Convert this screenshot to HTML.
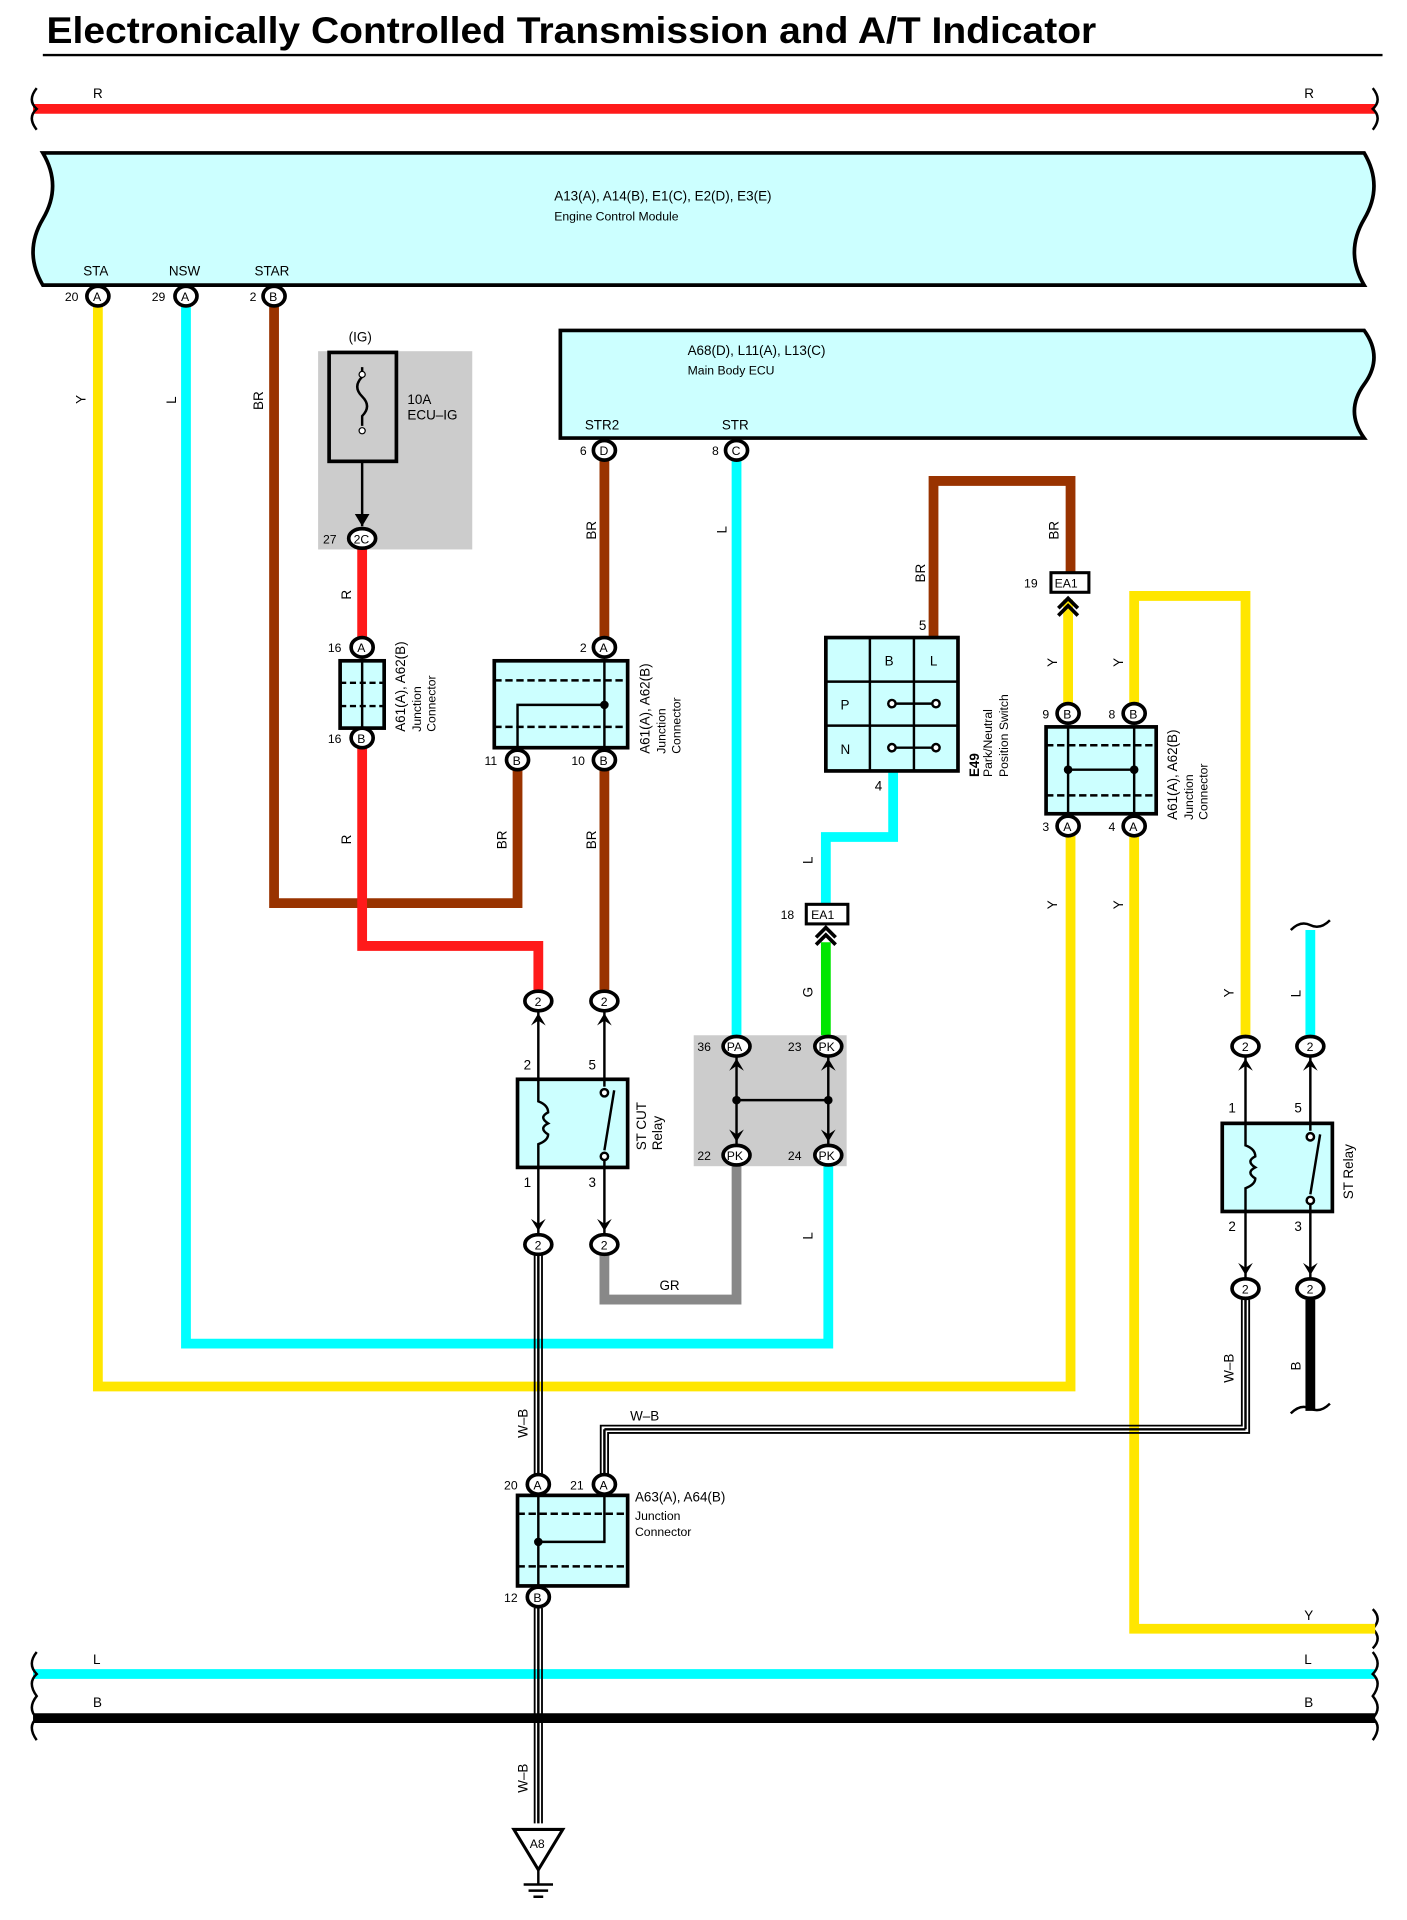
<!DOCTYPE html>
<html><head><meta charset="utf-8"><style>
html,body{margin:0;padding:0;background:#fff}
svg{display:block}
text{font-family:"Liberation Sans",Arial,sans-serif;font-size:11px;fill:#000}
.t{font-size:10px}
.w{fill:none;stroke-width:8;stroke-linejoin:miter;stroke-linecap:butt}
.box{fill:#ccffff;stroke:#000;stroke-width:3}
.pin{fill:#fff;stroke:#000;stroke-width:3}
.ln{stroke:#000;stroke-width:2;fill:none}
</style></head><body>
<svg width="1407" height="1920" viewBox="0 0 1150 1569" preserveAspectRatio="none" xmlns="http://www.w3.org/2000/svg">
<text x="38" y="35" textLength="858" lengthAdjust="spacingAndGlyphs" style="font-size:30px;font-weight:bold">Electronically Controlled Transmission and A/T Indicator</text>
<line x1="35" y1="45" x2="1130" y2="45" stroke="#000" stroke-width="2"/>

<!-- buses -->
<line x1="27" y1="89" x2="1124" y2="89" stroke="#ff1a1a" stroke-width="8"/>
<text x="76" y="80">R</text><text x="1066" y="80">R</text>
<line x1="27" y1="1368" x2="1124" y2="1368" stroke="#00ffff" stroke-width="8"/>
<text x="76" y="1360">L</text><text x="1066" y="1360">L</text>
<line x1="27" y1="1404" x2="1124" y2="1404" stroke="#000" stroke-width="8"/>
<text x="76" y="1395">B</text><text x="1066" y="1395">B</text>
<g class="ln" stroke-width="2">
<path d="M30 72 q-8 10 0 17 q-8 7 0 17"/><path d="M1122 72 q8 10 0 17 q8 7 0 17"/>
<path d="M30 1350 q-8 10 0 18 q-8 7 0 18 q-8 10 0 18 q-8 7 0 18"/><path d="M1122 1350 q8 10 0 18 q8 7 0 18 q8 10 0 18 q8 7 0 18"/>
<path d="M1122 1315 q8 8 0 16 q8 8 0 16"/>
<path d="M1055 760 q8 -8 16 -4 q8 4 16 -4"/><path d="M1055 1155 q8 -8 16 -4 q8 4 16 -4"/>
</g>

<!-- ECM -->
<path class="box" d="M35 125 H1115 q16 27 0 54 q-16 27 0 54 H35 q-16 -27 0 -54 q16 -27 0 -54 Z"/>
<text x="453" y="164">A13(A), A14(B), E1(C), E2(D), E3(E)</text>
<text x="453" y="180" class="t">Engine Control Module</text>
<text x="68" y="225">STA</text><text x="138" y="225">NSW</text><text x="208" y="225">STAR</text>
<!-- Main body ECU -->
<path class="box" d="M458 270 H1115 q16 22 0 44 q-16 22 0 44 H458 Z"/>
<text x="562" y="290">A68(D), L11(A), L13(C)</text>
<text x="562" y="306" class="t">Main Body ECU</text>
<text x="478" y="351">STR2</text><text x="590" y="351">STR</text>

<!-- fuse gray -->
<rect x="260" y="287" width="126" height="162" fill="#cccccc"/>
<rect x="269" y="288" width="55" height="89" fill="none" stroke="#000" stroke-width="3"/>
<path class="ln" d="M296 300 v8 q-8 8 0 16 q8 8 0 16 v8"/><circle cx="296" cy="306" r="2.5" fill="#fff" stroke="#000"/><circle cx="296" cy="352" r="2.5" fill="#fff" stroke="#000"/>
<line x1="296" y1="377" x2="296" y2="430" stroke="#000" stroke-width="2"/>
<path d="M290 420 l6 10 l6 -10 z"/>
<text x="285" y="279">(IG)</text><text x="333" y="330">10A</text><text x="333" y="343">ECU–IG</text>
<!-- PNP gray -->
<rect x="567" y="846" width="125" height="107" fill="#cccccc"/>

<!-- wires -->
<path class="w" stroke="#ffe600" d="M80 250 V1133 H875 V683"/>
<path class="w" stroke="#00ffff" d="M152 250 V1098 H677 V953"/>
<path class="w" stroke="#993300" d="M224 250 V738 H423 V629"/>
<path class="w" stroke="#ff1a1a" d="M296 448 V521"/>
<path class="w" stroke="#ff1a1a" d="M296 611 V773 H440 V810"/>
<path class="w" stroke="#993300" d="M494 376 V521"/>
<path class="w" stroke="#993300" d="M494 629 V810"/>
<path class="w" stroke="#00ffff" d="M602 376 V846"/>
<path class="w" stroke="#993300" d="M763 521 V393 H875 V468"/>
<path class="w" stroke="#00ffff" d="M730 630 V684 H675 V739"/>
<path class="w" stroke="#00e600" d="M675 770 V846"/>
<path class="w" stroke="#888" d="M602 953 V1062 H494 V1025"/>
<path class="w" stroke="#ffe600" d="M873 490 V575"/>
<path class="w" stroke="#ffe600" d="M927 683 V1331 H1124"/>
<path class="w" stroke="#ffe600" d="M927 575 V487 H1018 V846"/>
<path class="w" stroke="#00ffff" d="M1071 760 V846"/>
<path class="w" stroke="#000" d="M1071 1062 V1153" stroke-width="9"/>
<!-- W-B double lines -->
<g fill="none" stroke="#000" stroke-width="1.5">
<path d="M437 1025 V1205 M443 1025 V1205 M437 1314 V1490 M443 1314 V1490"/>
<path d="M491 1205 V1165 H1015 V1062 M497 1205 V1171 H1021 V1062"/>
</g>
<line x1="440" y1="1025" x2="440" y2="1205" stroke="#000" stroke-width="2"/>
<line x1="440" y1="1314" x2="440" y2="1490" stroke="#000" stroke-width="2"/>
<line x1="494" y1="1205" x2="494" y2="1168" stroke="#000" stroke-width="2"/>
<line x1="494" y1="1168" x2="1018" y2="1168" stroke="#000" stroke-width="2"/>
<line x1="1018" y1="1168" x2="1018" y2="1062" stroke="#000" stroke-width="2"/>

<!-- wire labels (rotated) -->
<g class="t">
<text transform="translate(70 330) rotate(-90)">Y</text>
<text transform="translate(144 330) rotate(-90)">L</text>
<text transform="translate(215 335) rotate(-90)">BR</text>
<text transform="translate(287 490) rotate(-90)">R</text>
<text transform="translate(287 690) rotate(-90)">R</text>
<text transform="translate(414 694) rotate(-90)">BR</text>
<text transform="translate(487 694) rotate(-90)">BR</text>
<text transform="translate(487 441) rotate(-90)">BR</text>
<text transform="translate(594 436) rotate(-90)">L</text>
<text transform="translate(756 476) rotate(-90)">BR</text>
<text transform="translate(865 441) rotate(-90)">BR</text>
<text transform="translate(664 706) rotate(-90)">L</text>
<text transform="translate(664 815) rotate(-90)">G</text>
<text transform="translate(664 1013) rotate(-90)">L</text>
<text transform="translate(864 545) rotate(-90)">Y</text>
<text transform="translate(918 545) rotate(-90)">Y</text>
<text transform="translate(864 743) rotate(-90)">Y</text>
<text transform="translate(918 743) rotate(-90)">Y</text>
<text transform="translate(1008 815) rotate(-90)">Y</text>
<text transform="translate(1063 815) rotate(-90)">L</text>
<text transform="translate(1008 1130) rotate(-90)">W–B</text>
<text transform="translate(1063 1120) rotate(-90)">B</text>
<text transform="translate(431 1175) rotate(-90)">W–B</text>
<text transform="translate(431 1465) rotate(-90)">W–B</text>
<text x="539" y="1054">GR</text>
<text x="515" y="1161">W–B</text>
<text x="1066" y="1324">Y</text>
</g>

<!-- junction connectors -->
<rect class="box" x="278" y="540" width="36" height="55"/>
<path class="ln" d="M296 540 V595" /><path d="M278 558 H314 M278 577 H314" stroke="#000" stroke-width="2" stroke-dasharray="5 3"/>
<text transform="translate(331 598) rotate(-90)">A61(A), A62(B)</text>
<text class="t" transform="translate(344 598) rotate(-90)">Junction</text>
<text class="t" transform="translate(356 598) rotate(-90)">Connector</text>

<rect class="box" x="404" y="540" width="109" height="71"/>
<path d="M404 556 H513 M404 594 H513" stroke="#000" stroke-width="2" stroke-dasharray="6 3"/>
<path class="ln" d="M494 540 V611 M423 611 V576 H494"/><circle cx="494" cy="576" r="3.5"/>
<text transform="translate(531 616) rotate(-90)">A61(A), A62(B)</text>
<text class="t" transform="translate(544 616) rotate(-90)">Junction</text>
<text class="t" transform="translate(556 616) rotate(-90)">Connector</text>

<rect class="box" x="855" y="594" width="90" height="71"/>
<path d="M855 609 H945 M855 650 H945" stroke="#000" stroke-width="2" stroke-dasharray="6 3"/>
<path class="ln" d="M873 594 V665 M927 594 V665 M873 629 H927"/><circle cx="873" cy="629" r="3.5"/><circle cx="927" cy="629" r="3.5"/>
<text transform="translate(962 670) rotate(-90)">A61(A), A62(B)</text>
<text class="t" transform="translate(975 670) rotate(-90)">Junction</text>
<text class="t" transform="translate(987 670) rotate(-90)">Connector</text>

<rect class="box" x="423" y="1222" width="90" height="74"/>
<path d="M423 1237 H513 M423 1280 H513" stroke="#000" stroke-width="2" stroke-dasharray="6 3"/>
<path class="ln" d="M440 1222 V1296 M494 1222 V1260 H440"/><circle cx="440" cy="1260" r="3.5"/>
<text x="519" y="1227">A63(A), A64(B)</text>
<text x="519" y="1242" class="t">Junction</text>
<text x="519" y="1255" class="t">Connector</text>

<!-- PNP switch -->
<rect class="box" x="675" y="521" width="108" height="109"/>
<path class="ln" stroke-width="3" d="M711 521 V630 M747 521 V630 M675 557 H783 M675 593 H783"/>
<text x="723" y="544">B</text><text x="760" y="544">L</text><text x="687" y="580">P</text><text x="687" y="616">N</text>
<path class="ln" d="M729 575 H765 M729 611 H765"/>
<g fill="#fff" stroke="#000" stroke-width="2"><circle cx="729" cy="575" r="3"/><circle cx="765" cy="575" r="3"/><circle cx="729" cy="611" r="3"/><circle cx="765" cy="611" r="3"/></g>
<text x="751" y="515">5</text><text x="715" y="646">4</text>
<text transform="translate(800 635) rotate(-90)" style="font-weight:bold">E49</text>
<text class="t" transform="translate(811 635) rotate(-90)">Park/Neutral</text>
<text class="t" transform="translate(824 635) rotate(-90)">Position Switch</text>

<!-- PNP internal -->
<path class="ln" d="M602 864 V935 M677 864 V935 M602 899 H677"/><circle cx="602" cy="899" r="3.5"/><circle cx="677" cy="899" r="3.5"/>

<!-- relays -->
<rect class="box" x="423" y="882" width="90" height="72"/>
<path class="ln" d="M440 826 V900 q8 3 8 9 q-8 4 0 9 q-8 4 0 9 q0 5 -8 8 V1008 M494 826 V888 M494 948 V1008 M494 940 L502 891"/>
<circle cx="494" cy="893" r="3" fill="#fff" stroke="#000" stroke-width="2"/><circle cx="494" cy="945" r="3" fill="#fff" stroke="#000" stroke-width="2"/>
<text x="428" y="874">2</text><text x="481" y="874">5</text><text x="428" y="970">1</text><text x="481" y="970">3</text>
<text transform="translate(528 940) rotate(-90)">ST CUT</text><text transform="translate(541 940) rotate(-90)">Relay</text>

<rect class="box" x="999" y="918" width="90" height="72"/>
<path class="ln" d="M1018 863 V936 q8 3 8 9 q-8 4 0 9 q-8 4 0 9 q0 5 -8 8 V1044 M1071 863 V924 M1071 984 V1044 M1071 976 L1079 927"/>
<circle cx="1071" cy="929" r="3" fill="#fff" stroke="#000" stroke-width="2"/><circle cx="1071" cy="981" r="3" fill="#fff" stroke="#000" stroke-width="2"/>
<text x="1004" y="909">1</text><text x="1058" y="909">5</text><text x="1004" y="1006">2</text><text x="1058" y="1006">3</text>
<text transform="translate(1106 980) rotate(-90)">ST Relay</text>

<!-- EA1 connectors -->
<rect x="859" y="468" width="31" height="16" fill="#fff" stroke="#000" stroke-width="2.5"/><text x="862" y="480" class="t">EA1</text><text x="837" y="480" class="t">19</text>
<path d="M865 497 l8 -8 l8 8 M865 503 l8 -8 l8 8" fill="none" stroke="#000" stroke-width="3"/>
<rect x="659" y="739" width="34" height="16" fill="#fff" stroke="#000" stroke-width="2.5"/><text x="663" y="751" class="t">EA1</text><text x="638" y="751" class="t">18</text>
<path d="M667 766 l8 -8 l8 8 M667 772 l8 -8 l8 8" fill="none" stroke="#000" stroke-width="3"/>

<!-- arrowheads near connectors -->
<g fill="#000">
<path d="M434 838 l6 -10 l6 10 l-6 -4z"/><path d="M488 838 l6 -10 l6 10 l-6 -4z"/>
<path d="M434 996 l6 10 l6 -10 l-6 4z"/><path d="M488 996 l6 10 l6 -10 l-6 4z"/>
<path d="M596 875 l6 -10 l6 10 l-6 -4z"/><path d="M671 875 l6 -10 l6 10 l-6 -4z"/>
<path d="M596 923 l6 10 l6 -10 l-6 4z"/><path d="M671 923 l6 10 l6 -10 l-6 4z"/>
<path d="M1012 875 l6 -10 l6 10 l-6 -4z"/><path d="M1065 875 l6 -10 l6 10 l-6 -4z"/>
<path d="M1012 1032 l6 10 l6 -10 l-6 4z"/><path d="M1065 1032 l6 10 l6 -10 l-6 4z"/>
</g>

<!-- pins -->
<g>
<ellipse class="pin" cx="80" cy="242" rx="9" ry="8"/><text x="76" y="246" class="t">A</text><text x="53" y="246" class="t">20</text>
<ellipse class="pin" cx="152" cy="242" rx="9" ry="8"/><text x="148" y="246" class="t">A</text><text x="124" y="246" class="t">29</text>
<ellipse class="pin" cx="224" cy="242" rx="9" ry="8"/><text x="220" y="246" class="t">B</text><text x="204" y="246" class="t">2</text>
<ellipse class="pin" cx="494" cy="368" rx="9" ry="8"/><text x="490" y="372" class="t">D</text><text x="474" y="372" class="t">6</text>
<ellipse class="pin" cx="602" cy="368" rx="9" ry="8"/><text x="598" y="372" class="t">C</text><text x="582" y="372" class="t">8</text>
<ellipse class="pin" cx="296" cy="440" rx="11" ry="8"/><text x="289" y="444" class="t">2C</text><text x="264" y="444" class="t">27</text>
<ellipse class="pin" cx="296" cy="529" rx="9" ry="8"/><text x="292" y="533" class="t">A</text><text x="268" y="533" class="t">16</text>
<ellipse class="pin" cx="296" cy="603" rx="9" ry="8"/><text x="292" y="607" class="t">B</text><text x="268" y="607" class="t">16</text>
<ellipse class="pin" cx="494" cy="529" rx="9" ry="8"/><text x="490" y="533" class="t">A</text><text x="474" y="533" class="t">2</text>
<ellipse class="pin" cx="423" cy="621" rx="9" ry="8"/><text x="419" y="625" class="t">B</text><text x="396" y="625" class="t">11</text>
<ellipse class="pin" cx="494" cy="621" rx="9" ry="8"/><text x="490" y="625" class="t">B</text><text x="467" y="625" class="t">10</text>
<ellipse class="pin" cx="873" cy="583" rx="9" ry="8"/><text x="869" y="587" class="t">B</text><text x="852" y="587" class="t">9</text>
<ellipse class="pin" cx="927" cy="583" rx="9" ry="8"/><text x="923" y="587" class="t">B</text><text x="906" y="587" class="t">8</text>
<ellipse class="pin" cx="873" cy="675" rx="9" ry="8"/><text x="869" y="679" class="t">A</text><text x="852" y="679" class="t">3</text>
<ellipse class="pin" cx="927" cy="675" rx="9" ry="8"/><text x="923" y="679" class="t">A</text><text x="906" y="679" class="t">4</text>
<ellipse class="pin" cx="440" cy="818" rx="11" ry="8"/><text x="437" y="822" class="t">2</text>
<ellipse class="pin" cx="494" cy="818" rx="11" ry="8"/><text x="491" y="822" class="t">2</text>
<ellipse class="pin" cx="440" cy="1017" rx="11" ry="8"/><text x="437" y="1021" class="t">2</text>
<ellipse class="pin" cx="494" cy="1017" rx="11" ry="8"/><text x="491" y="1021" class="t">2</text>
<ellipse class="pin" cx="602" cy="855" rx="11" ry="8"/><text x="594" y="859" class="t">PA</text><text x="570" y="859" class="t">36</text>
<ellipse class="pin" cx="677" cy="855" rx="11" ry="8"/><text x="669" y="859" class="t">PK</text><text x="644" y="859" class="t">23</text>
<ellipse class="pin" cx="602" cy="944" rx="11" ry="8"/><text x="594" y="948" class="t">PK</text><text x="570" y="948" class="t">22</text>
<ellipse class="pin" cx="677" cy="944" rx="11" ry="8"/><text x="669" y="948" class="t">PK</text><text x="644" y="948" class="t">24</text>
<ellipse class="pin" cx="1018" cy="855" rx="11" ry="8"/><text x="1015" y="859" class="t">2</text>
<ellipse class="pin" cx="1071" cy="855" rx="11" ry="8"/><text x="1068" y="859" class="t">2</text>
<ellipse class="pin" cx="1018" cy="1053" rx="11" ry="8"/><text x="1015" y="1057" class="t">2</text>
<ellipse class="pin" cx="1071" cy="1053" rx="11" ry="8"/><text x="1068" y="1057" class="t">2</text>
<ellipse class="pin" cx="440" cy="1213" rx="9" ry="8"/><text x="436" y="1217" class="t">A</text><text x="412" y="1217" class="t">20</text>
<ellipse class="pin" cx="494" cy="1213" rx="9" ry="8"/><text x="490" y="1217" class="t">A</text><text x="466" y="1217" class="t">21</text>
<ellipse class="pin" cx="440" cy="1305" rx="9" ry="8"/><text x="436" y="1309" class="t">B</text><text x="412" y="1309" class="t">12</text>
</g>

<!-- ground -->
<path d="M420 1495 H460 L440 1528 Z" fill="#fff" stroke="#000" stroke-width="2.5"/>
<text x="433" y="1510" class="t">A8</text>
<path d="M440 1528 V1540 M428 1540 H452 M432 1545 H448 M436 1550 H444" stroke="#000" stroke-width="2"/>
</svg>
</body></html>
